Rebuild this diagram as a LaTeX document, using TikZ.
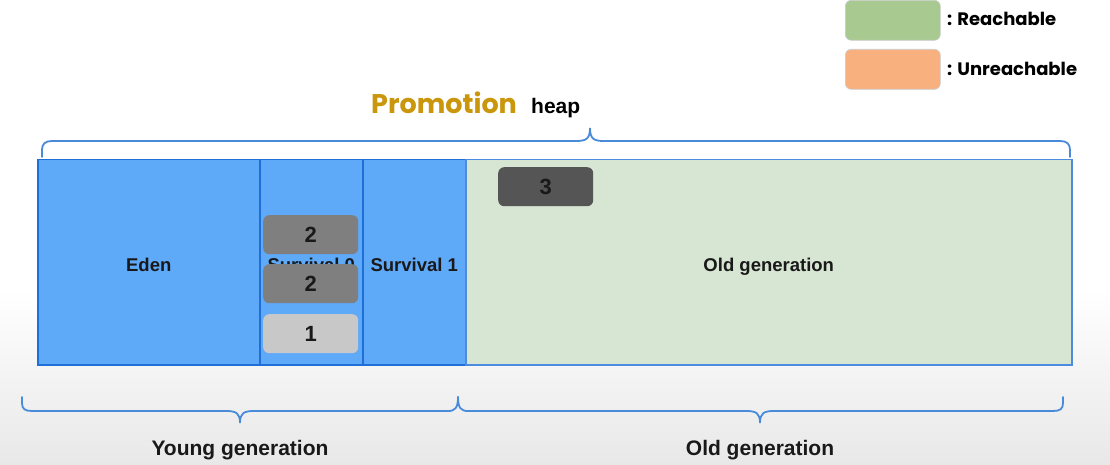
\documentclass[tikz,border=0pt]{standalone}
\usepackage{fontspec}
\setmainfont{Liberation Sans}
\newfontfamily\roundfont{Poppins}
\definecolor{cellblue}{HTML}{5FA9F9}
\definecolor{cellborder}{HTML}{1E6FD8}
\definecolor{oldfill}{HTML}{D7E5D3}
\definecolor{bracecol}{HTML}{4A8BD9}
\definecolor{darkobj}{HTML}{555555}
\definecolor{midobj}{HTML}{7F7F7F}
\definecolor{lightobj}{HTML}{C8C8C8}
\definecolor{reach}{HTML}{A8CA90}
\definecolor{unreach}{HTML}{F9B07F}
\definecolor{promo}{HTML}{C9960C}
\definecolor{bggray}{HTML}{E8E8E8}
\tikzset{
  cell/.style={draw=cellborder, line width=1.5pt, fill=cellblue, anchor=north west, inner sep=0pt},
  celltext/.style={anchor=base, inner sep=0pt, font=\bfseries\fontsize{18.5}{20}\selectfont, text=black!90},
  obj/.style={rounded corners=6pt, anchor=north west, inner sep=0pt, minimum width=95pt, minimum height=39pt,
    font=\bfseries\fontsize{22}{24}\selectfont, text=black!90},
  legendbox/.style={rounded corners=6pt, anchor=north west, inner sep=0pt, minimum width=95pt, minimum height=40pt, draw=white!80!black, line width=0.6pt},
  legendtext/.style={anchor=west, inner sep=0pt, font=\roundfont\bfseries\fontsize{18}{20}\selectfont},
  bracestyle/.style={draw=bracecol, line width=1.8pt, line cap=round},
  genlabel/.style={anchor=base, font=\bfseries\fontsize{21}{23}\selectfont, inner sep=0pt, text=black!90}
}
\begin{document}
\begin{tikzpicture}[x=1pt,y=-1pt]
\useasboundingbox (0,0) rectangle (1110,465);
% background
\fill[white] (0,0) rectangle (1110,465);
\shade[top color=white, bottom color=bggray] (0,290) rectangle (1110,465);
% legend
\node[legendbox, fill=reach] (lreach) at (845,0) {};
\node[legendbox, fill=unreach] (lunreach) at (845,49) {};
\node[legendtext] (treach) at (947,19) {: Reachable};
\node[legendtext] (tunreach) at (947,69) {: Unreachable};
% title
\node[anchor=base west, inner sep=0pt, text=promo, font=\roundfont\bfseries\fontsize{27}{29}\selectfont] (promo) at (371,114) {Promotion};
\node[anchor=base west, inner sep=0pt, font=\bfseries\fontsize{21}{23}\selectfont] (heap) at (531,114) {heap};
% heap cells
\node[cell, minimum width=222pt, minimum height=205pt] (eden) at (37,159) {};
\node[cell, minimum width=103pt, minimum height=205pt] (s0) at (259,159) {};
\node[cell, minimum width=103pt, minimum height=205pt] (s1) at (362,159) {};
\node[cell, fill=oldfill, draw=cellborder!80!white, minimum width=606pt, minimum height=205pt] (old) at (465,159) {};
\node[celltext] (edent) at ([yshift=-9pt]eden.center) {Eden};
\node[celltext] (s0t) at ([yshift=-9pt]s0.center) {Survival 0};
\node[celltext] (s1t) at ([yshift=-9pt]s1.center) {Survival 1};
\node[celltext] (oldt) at ([yshift=-9pt]old.center) {Old generation};
% objects
\node[obj, fill=midobj] (o2a) at (263,215) {2};
\node[obj, fill=midobj] (o2b) at (263,264) {2};
\node[obj, fill=lightobj] (o1) at (263,314) {1};
\node[obj, fill=darkobj] (o3) at (498,167) {3};
% top brace (heap)
\draw[bracestyle] (42,157) -- (42,150) .. controls (42,144) and (45,141) .. (52,141)
  -- (576,141) .. controls (586,141) and (590,139) .. (590,128)
  .. controls (590,139) and (594,141) .. (604,141)
  -- (1060,141) .. controls (1067,141) and (1070,144) .. (1070,150) -- (1070,157);
% bottom brace (young)
\draw[bracestyle] (22,397) -- (22,403) .. controls (22,409) and (25,411) .. (32,411)
  -- (226,411) .. controls (236,411) and (240,413) .. (240,423)
  .. controls (240,413) and (244,411) .. (254,411)
  -- (448,411) .. controls (455,411) and (458,408) .. (458,397);
% bottom brace (old)
\draw[bracestyle] (458,397) .. controls (458,408) and (461,411) .. (468,411)
  -- (746,411) .. controls (756,411) and (760,413) .. (760,423)
  .. controls (760,413) and (764,411) .. (774,411)
  -- (1053,411) .. controls (1060,411) and (1063,409) .. (1063,403) -- (1063,397);
\node[genlabel] (young) at (240,455) {Young generation};
\node[genlabel] (oldlab) at (760,455) {Old generation};
\end{tikzpicture}
\end{document}
